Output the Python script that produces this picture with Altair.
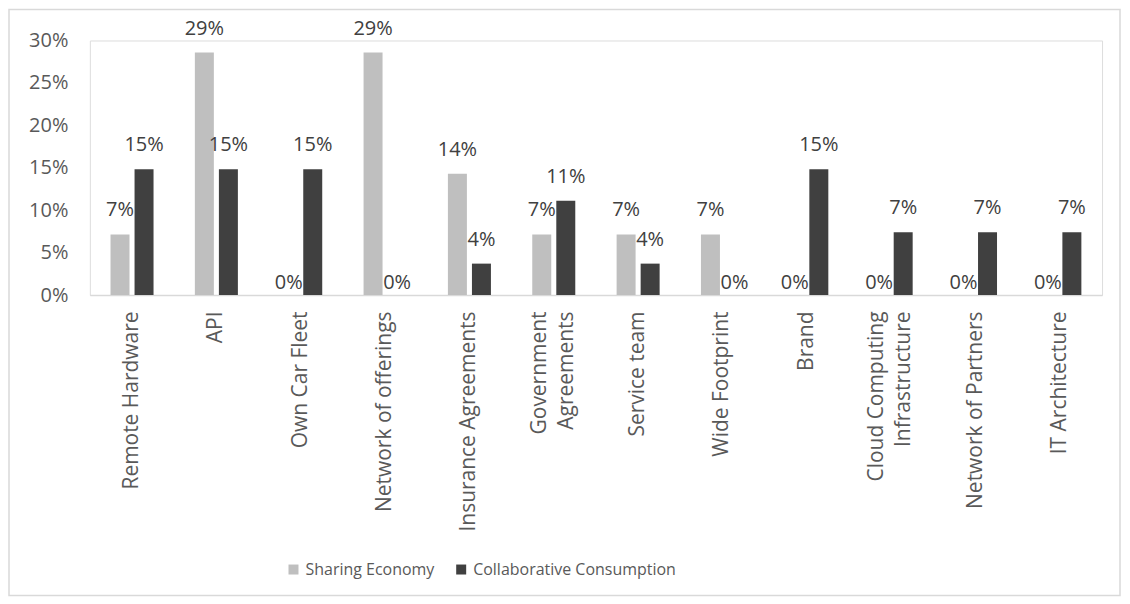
import altair as alt
import pandas as pd

categories = ["Remote Hardware", "API", "Own Car Fleet", "Network of offerings",
              "Insurance Agreements", "Government\nAgreements", "Service team",
              "Wide Footprint", "Brand", "Cloud Computing\nInfrastructure",
              "Network of Partners", "IT Architecture"]
sharing = [0.0714, 0.2857, 0.0, 0.2857, 0.1429, 0.0714, 0.0714, 0.0714, 0.0, 0.0, 0.0, 0.0]
collab = [0.1481, 0.1481, 0.1481, 0.0, 0.0370, 0.1111, 0.0370, 0.0, 0.1481, 0.0741, 0.0741, 0.0741]
series = ["Sharing Economy", "Collaborative Consumption"]
colors = ["#bfbfbf", "#404040"]
y_ticks = [0, 0.05, 0.10, 0.15, 0.20, 0.25, 0.30]

rows = []
for c, s, k in zip(categories, sharing, collab):
    rows.append({"category": c, "series": series[0], "value": s})
    rows.append({"category": c, "series": series[1], "value": k})
df = pd.DataFrame(rows)

FONT = "Open Sans"
W, H = 1014, 255

x_enc = alt.X("category:N", sort=categories,
              scale=alt.Scale(paddingInner=0.49, paddingOuter=0.245),
              axis=alt.Axis(title=None, labelAngle=270, labelPadding=16, ticks=False,
                            domainColor="#d9d9d9", domainWidth=1.5,
                            labelFontSize=21, labelColor="#595959", labelFont=FONT,
                            labelLineHeight=27, labelLimit=400,
                            labelOffset={"condition": {"test": "indexof(datum.value, '\\n') >= 0",
                                                       "value": -14}, "value": 0},
                            labelExpr="split(datum.label, '\\n')"))
xo_enc = alt.XOffset("series:N", sort=series,
                     scale=alt.Scale(paddingInner=0.21, paddingOuter=0))
y_enc = alt.Y("value:Q", scale=alt.Scale(domain=[0, 0.3]),
              axis=alt.Axis(title=None, format=".0%", values=y_ticks, grid=False,
                            domain=False, ticks=False, labelPadding=22,
                            labelFontSize=20, labelColor="#595959", labelFont=FONT))

base = alt.Chart(df)

bars = base.mark_bar().encode(
    x=x_enc, xOffset=xo_enc, y=y_enc,
    color=alt.Color("series:N", sort=series,
                    scale=alt.Scale(domain=series, range=colors),
                    legend=alt.Legend(title=None, orient="none", direction="horizontal",
                                      legendX=196, legendY=522, symbolType="square",
                                      symbolSize=100, symbolStrokeWidth=0,
                                      labelFontSize=16, labelColor="#595959",
                                      labelFont=FONT, columnPadding=18, labelOffset=4,
                                      labelLimit=400))
)

txt_pos = base.transform_filter("datum.value > 0").mark_text(
    baseline="alphabetic", dy=-18, fontSize=20, font=FONT, color="#404040"
).encode(x=x_enc, xOffset=xo_enc, y=y_enc, text=alt.Text("value:Q", format=".0%"))

txt_zero = base.transform_filter("datum.value == 0").mark_text(
    baseline="alphabetic", dy=-6, fontSize=20, font=FONT, color="#404040"
).encode(x=x_enc, xOffset=xo_enc, y=y_enc, text=alt.Text("value:Q", format=".0%"))

border = alt.Chart(alt.Data(values=[{"b": 1}])).mark_rect(
    fillOpacity=0, stroke="#d9d9d9", strokeWidth=1.5
).encode(x=alt.value(-81), x2=alt.value(1032), y=alt.value(-31), y2=alt.value(556))

chart = alt.layer(border, bars, txt_pos, txt_zero).properties(
    width=W, height=H, autosize="none",
    padding={"left": 82, "top": 32, "right": 20, "bottom": 303}
).configure_view(stroke=None).configure(background="white")

chart.save("out.html", embed_options={"renderer": "svg", "actions": False})
